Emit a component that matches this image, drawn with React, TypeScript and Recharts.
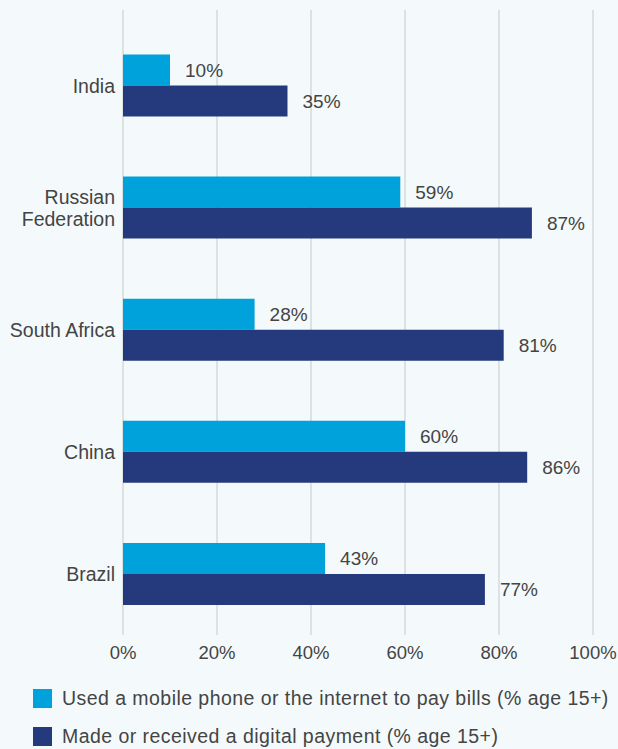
import { BarChart, Bar, XAxis, YAxis, CartesianGrid, Legend, LabelList } from 'recharts';

const countries = ['India', 'Russian Federation', 'South Africa', 'China', 'Brazil'];
const payBills = [10, 59, 28, 60, 43];
const digitalPayment = [35, 87, 81, 86, 77];
const xTicks = [0, 20, 40, 60, 80, 100];

const seriesNames = {
  payBills: 'Used a mobile phone or the internet to pay bills (% age 15+)',
  digitalPayment: 'Made or received a digital payment (% age 15+)',
};
const legendOrder = ['payBills', 'digitalPayment'];

const LIGHT = '#00a2db';
const DARK = '#243a7c';
const TEXT = '#444444';
const FONT = '"Liberation Sans", Arial, Helvetica, sans-serif';
const FS = 19;

const data = countries.map((name, i) => ({
  name,
  payBills: payBills[i],
  digitalPayment: digitalPayment[i],
}));

// Category labels; "Russian Federation" wraps onto two lines
function CountryTick({ x, y, payload }: any) {
  const words: string[] = payload.value === 'Russian Federation' ? ['Russian', 'Federation'] : [payload.value];
  const lineH = 22;
  const startY = y - ((words.length - 1) * lineH) / 2;
  return (
    <text x={x} y={startY} textAnchor="end" fill={TEXT} fontSize={19.5} fontFamily={FONT} dominantBaseline="central">
      {words.map((w, i) => (
        <tspan key={w} x={x} dy={i === 0 ? 0 : lineH}>
          {w}
        </tspan>
      ))}
    </text>
  );
}

function LegendContent({ payload }: any) {
  const items = [...(payload || [])].sort(
    (a: any, b: any) => legendOrder.indexOf(a.dataKey) - legendOrder.indexOf(b.dataKey)
  );
  return (
    <div style={{ position: 'relative', width: 618, height: 78, fontFamily: FONT, fontSize: 19.5, letterSpacing: 0.45, color: TEXT }}>
      {items.map((p: any, i: number) => (
        <div
          key={i}
          style={{ position: 'absolute', left: 33, top: 18 + i * 38, height: 19, display: 'flex', alignItems: 'center', whiteSpace: 'nowrap' }}
        >
          <span style={{ display: 'inline-block', width: 19, height: 19, background: p.color, marginRight: 10 }} />
          <span>{p.value}</span>
        </div>
      ))}
    </div>
  );
}

export default function App() {
  return (
    <div style={{ position: 'absolute', left: 0, top: 0, width: 618, height: 749, overflow: 'hidden', background: '#f4fafb' }}>
      <BarChart
        width={618}
        height={749}
        data={data}
        layout="vertical"
        margin={{ top: 10, right: 25, bottom: 0, left: 0 }}
        barGap={0}
      >
        <CartesianGrid horizontal={false} stroke="#d5d8da" strokeWidth={1.5} />
        <XAxis
          type="number"
          domain={[0, 100]}
          ticks={xTicks}
          tickFormatter={(v) => `${v}%`}
          axisLine={false}
          tickLine={false}
          height={36}
          tick={{ fill: TEXT, fontSize: 18.5, fontFamily: FONT, dy: 3 }}
        />
        <YAxis
          type="category"
          dataKey="name"
          width={123}
          axisLine={false}
          tickLine={false}
          padding={{ top: 14.5, bottom: 0 }}
          tick={<CountryTick />}
        />
        <Legend
          verticalAlign="bottom"
          align="left"
          layout="horizontal"
          wrapperStyle={{ width: 618, height: 78, left: 0 }}
          content={<LegendContent />}
        />
        <Bar dataKey="payBills" name={seriesNames.payBills} fill={LIGHT} barSize={31} isAnimationActive={false}>
          <LabelList
            dataKey="payBills"
            position="right"
            offset={15}
            formatter={(v: any) => `${v}%`}
            fill={TEXT}
            fontSize={FS}
            fontFamily={FONT}
          />
        </Bar>
        <Bar dataKey="digitalPayment" name={seriesNames.digitalPayment} fill={DARK} barSize={31} isAnimationActive={false}>
          <LabelList
            dataKey="digitalPayment"
            position="right"
            offset={15}
            formatter={(v: any) => `${v}%`}
            fill={TEXT}
            fontSize={FS}
            fontFamily={FONT}
          />
        </Bar>
      </BarChart>
    </div>
  );
}
